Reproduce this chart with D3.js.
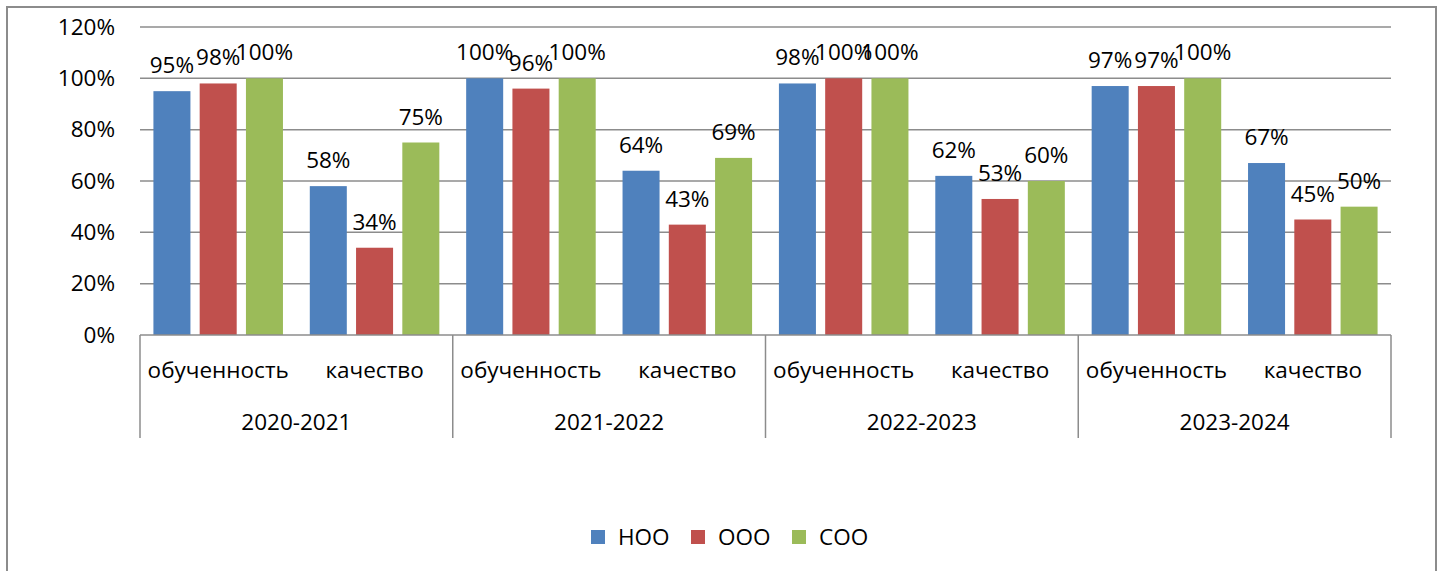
<!DOCTYPE html>
<html>
<head>
<meta charset="utf-8">
<script src="https://cdn.jsdelivr.net/npm/d3@7"></script>
<style>
  html, body { margin: 0; padding: 0; background: #fff; }
  svg { display: block; }
  text { font-family: "Open Sans", "Noto Sans", sans-serif; fill: #000; }
</style>
</head>
<body>
<svg id="chart" width="1442" height="571"></svg>
<script>
// School years and the two indicators measured in each
const years = ["2020-2021", "2021-2022", "2022-2023", "2023-2024"];
const measures = ["обученность", "качество"];
const seriesNames = ["НОО", "ООО", "СОО"];
const seriesColors = ["#4F81BD", "#C0504D", "#9BBB59"];

// Percentages per series, ordered year by year: [обученность, качество]
const noo = [95, 58, 100, 64, 98, 62, 97, 67];
const ooo = [98, 34, 96, 43, 100, 53, 97, 45];
const soo = [100, 75, 100, 69, 100, 60, 100, 50];
const seriesValues = [noo, ooo, soo];

const yTicks = [0, 20, 40, 60, 80, 100, 120];

const FS = 22.5;
const svg = d3.select("#chart");
const plot = { left: 140, right: 1391, top: 27, bottom: 335 };

// Outer frame of the chart
svg.append("rect")
  .attr("x", 7).attr("y", 7)
  .attr("width", 1429).attr("height", 600)
  .attr("fill", "#fff").attr("stroke", "#8c8c8c").attr("stroke-width", 2);

const y = d3.scaleLinear().domain([0, 120]).range([plot.bottom, plot.top]);

const xYear = d3.scaleBand().domain(years).range([plot.left, plot.right]);
const xMeasure = d3.scaleBand().domain(measures).range([0, xYear.bandwidth()]);
const xSeries = d3.scaleBand().domain(seriesNames)
  .range([0, xMeasure.bandwidth()])
  .paddingInner(0.2).paddingOuter(0.29);

// Horizontal gridlines
svg.append("g").selectAll("line")
  .data(yTicks.filter(t => t > 0))
  .join("line")
  .attr("x1", plot.left).attr("x2", plot.right)
  .attr("y1", d => y(d)).attr("y2", d => y(d))
  .attr("stroke", "#8c8c8c").attr("stroke-width", 1.5);

// Y axis labels
const yAxis = d3.axisLeft(y).tickValues(yTicks).tickFormat(d => d + "%").tickSize(0).tickPadding(25);
const yg = svg.append("g").attr("transform", `translate(${plot.left},0)`).call(yAxis);
yg.select(".domain").remove();
yg.selectAll("text").attr("font-size", FS).style("font-family", "'Open Sans', sans-serif").attr("fill", "#000");

// Flattened rows: one per year x measure
const rows = [];
years.forEach((yr, i) => measures.forEach((m, j) => {
  rows.push({ year: yr, measure: m, values: seriesValues.map(s => s[i * 2 + j]) });
}));

const groups = svg.append("g").selectAll("g")
  .data(rows)
  .join("g")
  .attr("transform", d => `translate(${xYear(d.year) + xMeasure(d.measure)},0)`);

groups.selectAll("rect")
  .data(d => d.values.map((v, k) => ({ v, k })))
  .join("rect")
  .attr("x", d => xSeries(seriesNames[d.k]))
  .attr("width", xSeries.bandwidth())
  .attr("y", d => y(d.v))
  .attr("height", d => y(0) - y(d.v))
  .attr("fill", d => seriesColors[d.k]);

groups.selectAll("text.val")
  .data(d => d.values.map((v, k) => ({ v, k })))
  .join("text")
  .attr("class", "val")
  .attr("x", d => xSeries(seriesNames[d.k]) + xSeries.bandwidth() / 2)
  .attr("y", d => y(d.v) - 18)
  .attr("text-anchor", "middle")
  .attr("font-size", FS)
  .text(d => d.v + "%");

// Category axis: baseline, separators, labels
svg.append("line")
  .attr("x1", plot.left).attr("x2", plot.right)
  .attr("y1", plot.bottom).attr("y2", plot.bottom)
  .attr("stroke", "#8c8c8c").attr("stroke-width", 1.5);

const boundaries = years.map(yr => xYear(yr)).concat([plot.right]);
svg.append("g").selectAll("line")
  .data(boundaries)
  .join("line")
  .attr("x1", d => d).attr("x2", d => d)
  .attr("y1", plot.bottom).attr("y2", 438)
  .attr("stroke", "#8c8c8c").attr("stroke-width", 1.5);

svg.append("g").selectAll("text")
  .data(rows)
  .join("text")
  .attr("x", d => xYear(d.year) + xMeasure(d.measure) + xMeasure.bandwidth() / 2)
  .attr("y", 378)
  .attr("text-anchor", "middle")
  .attr("font-size", FS)
  .text(d => d.measure);

svg.append("g").selectAll("text")
  .data(years)
  .join("text")
  .attr("x", d => xYear(d) + xYear.bandwidth() / 2)
  .attr("y", 430)
  .attr("text-anchor", "middle")
  .attr("font-size", FS)
  .text(d => d);

// Legend
const legendX = [591, 691, 792];
const legend = svg.append("g").selectAll("g")
  .data(seriesNames)
  .join("g")
  .attr("transform", (d, i) => `translate(${legendX[i]},530)`);
legend.append("rect")
  .attr("width", 14).attr("height", 14)
  .attr("fill", (d, i) => seriesColors[i]);
legend.append("text")
  .attr("x", 27).attr("y", 15)
  .attr("font-size", FS)
  .text(d => d);
</script>
</body>
</html>
